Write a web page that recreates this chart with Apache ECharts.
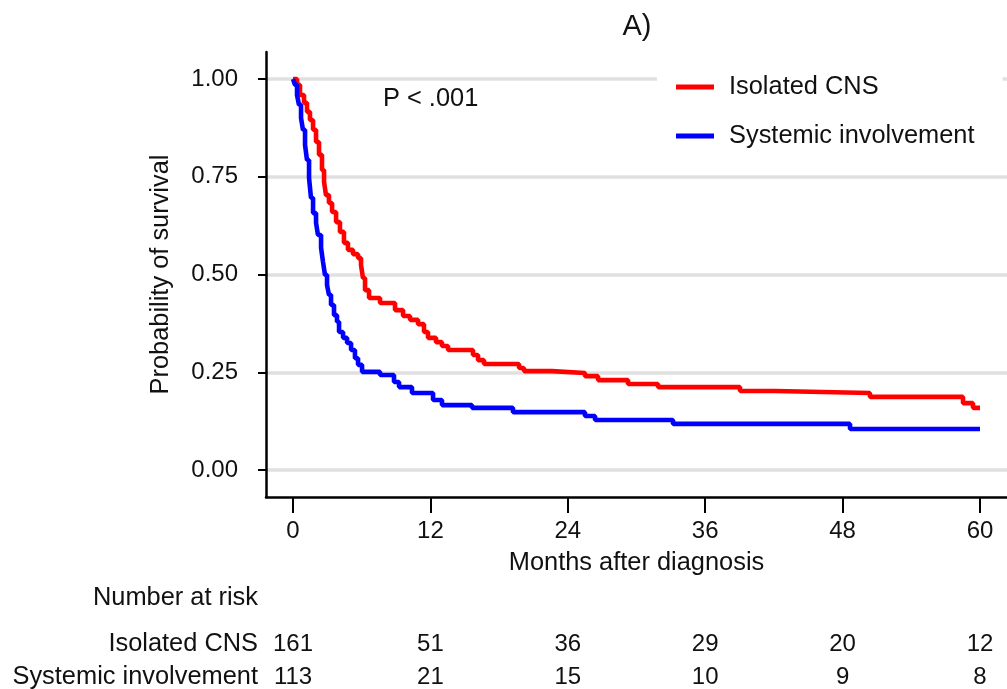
<!DOCTYPE html>
<html>
<head>
<meta charset="utf-8">
<script src="https://cdn.jsdelivr.net/npm/echarts@6/dist/echarts.min.js"></script>
<style>
  html, body { margin: 0; padding: 0; background: #fff; }
  #chart { width: 1007px; height: 689px; }
</style>
</head>
<body>
<div id="chart"></div>
<script>
// Kaplan-Meier steps: month of drop, survival after it
const cnsTimes = [0, 0.35, 0.61, 0.96, 1.22, 1.48, 1.75, 2.01, 2.27, 2.53, 2.71, 2.88, 3.14, 3.41, 3.76, 4.10, 4.45, 4.80, 5.24, 5.68, 5.94, 6.11, 6.29, 6.64, 7.60, 8.91, 9.61, 10.22, 10.92, 11.44, 11.79, 12.49, 13.01, 13.54, 15.72, 16.16, 16.68, 19.74, 20.17, 22.62, 25.50, 26.64, 29.26, 31.88, 39.04, 42.10, 50.39, 58.52, 59.39, 60];
const cnsSurv = [1, 0.985, 0.959, 0.939, 0.916, 0.895, 0.870, 0.839, 0.806, 0.767, 0.737, 0.703, 0.683, 0.660, 0.634, 0.609, 0.581, 0.563, 0.552, 0.542, 0.524, 0.491, 0.460, 0.440, 0.427, 0.409, 0.394, 0.384, 0.373, 0.353, 0.338, 0.327, 0.317, 0.307, 0.294, 0.281, 0.271, 0.261, 0.253, 0.248, 0.240, 0.230, 0.220, 0.212, 0.202, 0.197, 0.187, 0.171, 0.159, 0.159];

const sysTimes = [0, 0.17, 0.35, 0.52, 0.70, 0.87, 1.05, 1.22, 1.40, 1.57, 1.75, 2.01, 2.18, 2.45, 2.62, 2.79, 2.97, 3.14, 3.32, 3.58, 3.84, 4.02, 4.37, 4.72, 5.07, 5.41, 5.68, 6.03, 7.60, 8.82, 9.26, 10.39, 12.23, 13.01, 15.63, 19.21, 25.50, 26.38, 33.19, 48.65, 60];
const sysSurv = [1, 0.985, 0.959, 0.934, 0.900, 0.870, 0.831, 0.793, 0.747, 0.696, 0.657, 0.632, 0.601, 0.568, 0.532, 0.499, 0.473, 0.448, 0.422, 0.396, 0.379, 0.353, 0.338, 0.325, 0.307, 0.286, 0.269, 0.251, 0.243, 0.225, 0.212, 0.197, 0.179, 0.166, 0.159, 0.148, 0.138, 0.128, 0.118, 0.105, 0.105];

const seriesNames = ["Isolated CNS", "Systemic involvement"];
const xTicks = [0, 12, 24, 36, 48, 60];
const yTicks = [0, 0.25, 0.5, 0.75, 1];
const riskCns = [161, 51, 36, 29, 20, 12];
const riskSys = [113, 21, 15, 10, 9, 8];

const font = "'Liberation Sans', Arial, sans-serif";
const ink = "#111";
const big = 25.4;

const chart = echarts.init(document.getElementById("chart"));

const option = {
    animation: false,
    backgroundColor: "#fff",
    textStyle: { fontFamily: font, color: ink },
    grid: {
        left: 266,
        right: 0,
        top: 52,
        bottom: 192,
        outerBoundsMode: "none",
        containLabel: false,
    },
    legend: {
        orient: "vertical",
        left: 657,
        top: 61,
        backgroundColor: "#fff",
        padding: [12, 28, 12, 19],
        itemGap: 21,
        itemWidth: 38,
        itemHeight: 5,
        icon: "rect",
        textStyle: {
            fontFamily: font,
            fontSize: big,
            color: ink,
            lineHeight: 28,
            padding: [0, 0, 0, 10],
        },
        data: seriesNames,
    },
    xAxis: {
        type: "value",
        min: -2.36,
        max: 62.36,
        name: "Months after diagnosis",
        nameLocation: "middle",
        nameGap: 53,
        nameTextStyle: { fontFamily: font, fontSize: big, color: ink },
        axisLine: { onZero: false, lineStyle: { color: "#000", width: 2.5 } },
        axisTick: {
            customValues: xTicks,
            length: 16,
            lineStyle: { color: "#000", width: 2 },
        },
        axisLabel: {
            customValues: xTicks,
            margin: 22,
            fontFamily: font,
            fontSize: 24,
            color: ink,
        },
        splitLine: { show: false },
    },
    yAxis: {
        type: "value",
        min: -0.069,
        max: 1.069,
        name: "Probability of survival",
        nameLocation: "middle",
        nameGap: 93,
        nameTextStyle: { fontFamily: font, fontSize: big, color: ink },
        axisLine: { show: true, onZero: false, lineStyle: { color: "#000", width: 2.5 } },
        axisTick: {
            show: true,
            customValues: yTicks,
            length: 8,
            lineStyle: { color: "#000", width: 2 },
        },
        axisLabel: {
            customValues: yTicks,
            margin: 28,
            fontFamily: font,
            fontSize: 24,
            color: ink,
            formatter: (v) => v.toFixed(2),
        },
        splitLine: {
            show: true,
            lineStyle: { color: "#e0e0e0", width: 3.5 },
        },
    },
    series: [
        {
            name: seriesNames[0],
            type: "line",
            step: "end",
            showSymbol: false,
            color: "#ff0000",
            lineStyle: { width: 4.6, color: "#ff0000" },
            data: cnsTimes.map((t, i) => [t, cnsSurv[i]]),
        },
        {
            name: seriesNames[1],
            type: "line",
            step: "end",
            showSymbol: false,
            color: "#0000ff",
            lineStyle: { width: 4.6, color: "#0000ff" },
            data: sysTimes.map((t, i) => [t, sysSurv[i]]),
        },
    ],
};

chart.setOption(option);

// Annotations and the number-at-risk table, aligned to the x ticks
const tickX = xTicks.map((t) => chart.convertToPixel({ xAxisIndex: 0 }, t));
const txt = (x, y, text, size, align) => ({
    type: "text",
    x: x,
    y: y,
    style: {
        text: text,
        fontFamily: font,
        fontSize: size,
        fill: ink,
        align: align,
        verticalAlign: "middle",
    },
});

const graphics = [
    txt(637, 27, "A)", 29, "center"),
    txt(383, 99, "P < .001", big, "left"),
    txt(258, 598, "Number at risk", big, "right"),
    txt(258, 644, seriesNames[0], big, "right"),
    txt(258, 677, seriesNames[1], big, "right"),
];
tickX.forEach((x, i) => {
    graphics.push(txt(x, 644, String(riskCns[i]), 24, "center"));
    graphics.push(txt(x, 677, String(riskSys[i]), 24, "center"));
});

chart.setOption({ graphic: graphics });
</script>
</body>
</html>
